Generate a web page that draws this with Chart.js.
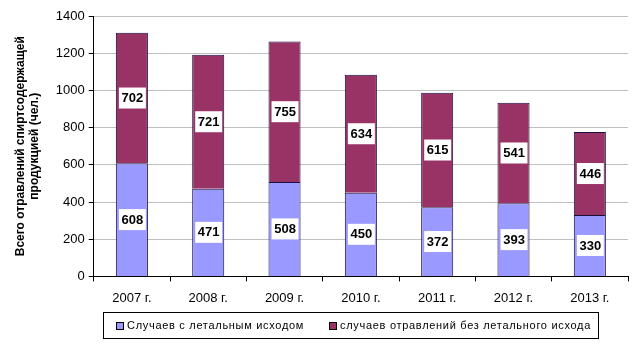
<!DOCTYPE html>
<html>
<head>
<meta charset="utf-8">
<script src="https://cdn.jsdelivr.net/npm/chart.js@4/dist/chart.umd.min.js"></script>
<style>
  html, body { margin: 0; padding: 0; background: #fff; }
  #wrap { width: 640px; height: 349px; }
</style>
</head>
<body>
<div id="wrap"><canvas id="poisonChart" width="640" height="349"></canvas></div>
<script>
// years and case counts
const years = ['2007 г.', '2008 г.', '2009 г.', '2010 г.', '2011 г.', '2012 г.', '2013 г.'];
const fatalCases = [608, 471, 508, 450, 372, 393, 330];
const nonFatalCases = [702, 721, 755, 634, 615, 541, 446];
const seriesNames = ['Случаев с летальным исходом', 'случаев отравлений без летального исхода'];
const yTitle = ['Всего отравлений спиртсодержащей', 'продукцией (чел.)'];

const FONT = '"Liberation Sans", Arial, sans-serif';

// white value boxes in the middle of each segment
const valueBoxes = {
    id: 'valueBoxes',
    afterDatasetsDraw(chart) {
        const ctx = chart.ctx;
        ctx.save();
        ctx.font = 'bold 13px ' + FONT;
        ctx.textAlign = 'center';
        ctx.textBaseline = 'middle';
        chart.data.datasets.forEach((ds, i) => {
            chart.getDatasetMeta(i).data.forEach((bar, j) => {
                const cy = (bar.y + bar.base) / 2;
                ctx.fillStyle = '#fff';
                ctx.fillRect(bar.x - 13, cy - 10.5, 27, 21);
                ctx.fillStyle = '#000';
                ctx.fillText(String(ds.data[j]), bar.x + 0.5, cy + 0.5);
            });
        });
        ctx.restore();
    }
};

// boxed legend under the axis labels
const boxedLegend = {
    id: 'boxedLegend',
    afterDraw(chart) {
        const ctx = chart.ctx;
        const left = 103, top = 312, w = 495, h = 26;
        ctx.save();
        ctx.strokeStyle = '#000';
        ctx.lineWidth = 1;
        ctx.strokeRect(left + 0.5, top + 0.5, w, h);
        ctx.font = '11px ' + FONT;
        ctx.letterSpacing = '0.7px';
        ctx.textBaseline = 'middle';
        ctx.textAlign = 'left';
        const starts = [116, 329];
        chart.data.datasets.forEach((ds, i) => {
            const x = starts[i];
            const cy = top + h / 2 + 1;
            ctx.fillStyle = ds.backgroundColor;
            ctx.fillRect(x, cy - 4, 7, 7);
            ctx.strokeStyle = '#000';
            ctx.strokeRect(x + 0.5, cy - 3.5, 7, 7);
            ctx.fillStyle = '#000';
            ctx.fillText(ds.label, x + 11, cy);
        });
        ctx.restore();
    }
};

function buildChart() {
    const ctx = document.getElementById('poisonChart').getContext('2d');

    new Chart(ctx, {
        type: 'bar',
        data: {
            labels: years,
            datasets: [{
                label: seriesNames[0],
                data: fatalCases,
                backgroundColor: '#9999ff',
                borderColor: '#1a1040',
                borderWidth: 1,
                barPercentage: 0.42,
                categoryPercentage: 1,
            }, {
                label: seriesNames[1],
                data: nonFatalCases,
                backgroundColor: '#993366',
                borderColor: '#1a1040',
                borderWidth: 1,
                barPercentage: 0.42,
                categoryPercentage: 1,
            }],
        },
        options: {
            responsive: false,
            animation: false,
            layout: { padding: { left: 13, right: 12, top: 16, bottom: 34 } },
            plugins: {
                legend: { display: false },
                tooltip: { enabled: false },
            },
            scales: {
                x: {
                    stacked: true,
                    offset: true,
                    grid: {
                        offset: true,
                        drawOnChartArea: false,
                        color: '#000',
                        tickLength: 5,
                    },
                    border: { color: '#000' },
                    ticks: {
                        color: '#000',
                        font: { family: FONT, size: 13 },
                        padding: 9,
                    },
                },
                y: {
                    stacked: true,
                    min: 0,
                    max: 1400,
                    ticks: {
                        stepSize: 200,
                        color: '#000',
                        font: { family: FONT, size: 13 },
                        padding: 4,
                        callback: (v) => String(v),
                    },
                    grid: {
                        color: '#c0c0c0',
                        tickColor: '#000',
                        tickLength: 5,
                    },
                    border: { color: '#000' },
                    title: {
                        display: true,
                        text: yTitle,
                        color: '#000',
                        font: { family: FONT, size: 12, weight: 'bold', lineHeight: 1.2 },
                        padding: { top: 0, bottom: 10 },
                    },
                },
            },
        },
        plugins: [valueBoxes, boxedLegend],
    });
}

buildChart();
</script>
</body>
</html>
